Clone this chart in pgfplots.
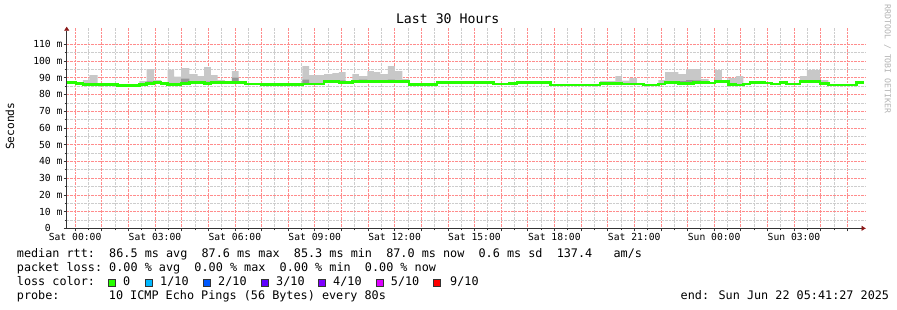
\documentclass[border=0pt]{standalone}
\usepackage{fontspec}
\setmainfont{DejaVu Sans Mono}
\usepackage{pgfplots}
\pgfplotsset{compat=1.18}
\usepackage{pgfplotstable}
\usepgfplotslibrary{fillbetween}
\usetikzlibrary{arrows.meta}
\definecolor{lgreen}{HTML}{26FF00}
\definecolor{lcyan}{HTML}{00B8FF}
\definecolor{lblue}{HTML}{0059FF}
\definecolor{lviolet}{HTML}{5E00FF}
\definecolor{lpurple}{HTML}{7E00FF}
\definecolor{lmagenta}{HTML}{DD00FF}
\definecolor{lred}{HTML}{FF0000}
\definecolor{smoke}{HTML}{C8C8C8}
\definecolor{smokedark}{HTML}{969696}
\definecolor{arrowred}{HTML}{8B1A1A}
\definecolor{gridred}{HTML}{FF8C8C}
\definecolor{gridgray}{HTML}{CDCDCD}
\pgfplotstableread{
x med max dk
-0.32 87.0 87.0 87.0
0.04 86.4 86.4 86.4
0.29 85.8 88.6 85.8
0.54 85.8 91.6 85.8
0.85 85.8 85.8 85.8
1.60 85.2 85.2 85.2
2.41 85.8 88.0 85.8
2.69 86.7 95.2 87.8
2.97 87.0 88.6 87.0
3.23 86.4 87.4 86.4
3.48 85.8 94.8 85.8
3.72 85.8 90.6 85.8
3.98 86.4 95.8 89.4
4.29 87.2 92.2 88.0
4.60 87.2 91.0 87.2
4.85 86.4 96.4 87.6
5.10 87.2 91.6 87.2
5.35 87.2 88.6 87.2
5.63 87.2 87.2 87.2
5.89 87.2 94.0 90.0
6.14 87.2 87.2 87.2
6.41 86.2 86.2 86.2
6.98 85.8 85.8 85.8
8.29 85.8 86.6 85.8
8.54 86.2 97.0 88.8
8.79 86.2 91.6 86.2
9.04 86.2 91.6 86.2
9.35 87.8 92.2 88.6
9.66 87.8 92.8 88.2
9.91 87.2 93.4 88.4
10.16 87.2 87.2 87.2
10.41 87.6 92.2 87.6
10.66 87.6 91.0 88.8
10.98 87.6 94.0 88.6
11.22 87.6 93.4 87.6
11.47 87.6 92.2 87.6
11.75 87.8 97.0 88.8
12.01 87.8 94.0 88.4
12.29 87.8 89.2 87.8
12.54 85.8 85.8 85.8
13.35 86.0 86.6 86.0
13.60 87.2 87.2 87.2
15.72 86.2 86.2 86.2
16.29 86.6 86.6 86.6
16.60 87.2 87.2 87.2
17.85 85.6 85.6 85.6
19.72 86.6 88.0 86.6
20.04 86.6 88.0 86.6
20.29 86.6 91.0 86.6
20.54 86.2 88.2 86.2
20.82 86.2 89.8 86.2
21.10 86.2 86.2 86.2
21.35 85.6 85.6 85.6
21.91 86.2 88.6 86.2
22.16 87.2 93.4 87.2
22.66 86.6 92.2 88.0
22.95 86.6 95.2 88.6
23.22 87.2 95.2 88.4
23.51 87.2 89.2 87.2
23.79 86.9 86.9 86.9
24.04 87.6 94.6 87.6
24.29 87.6 88.2 87.6
24.54 86.0 89.8 86.0
24.82 85.6 91.0 85.6
25.10 86.2 86.2 86.2
25.35 87.2 87.2 87.2
25.91 86.8 86.8 86.8
26.16 86.2 86.2 86.2
26.47 87.2 87.2 87.2
26.73 86.2 86.2 86.2
27.22 87.8 91.0 88.4
27.48 87.8 94.6 88.4
27.97 86.4 88.6 86.4
28.29 85.6 85.6 85.6
29.35 87.2 87.2 87.2
29.62 87.2 87.2 87.2
}\rtt
\begin{document}
\begin{tikzpicture}
\begin{axis}[
  at={(0pt,0pt)}, anchor=south west,
  scale only axis, width=798.9pt, height=201.6pt,
  xmin=-0.315, xmax=29.69, ymin=0, ymax=120.5,
  axis lines=left,
  axis line style={black!80, line width=0.7pt, -{Triangle[length=4pt,width=5pt,color=arrowred]}},
  xtick={0,1,...,29},
  xticklabels={Sat 00:00,,,Sat 03:00,,,Sat 06:00,,,Sat 09:00,,,Sat 12:00,,,Sat 15:00,,,Sat 18:00,,,Sat 21:00,,,Sun 00:00,,,Sun 03:00,,},
  minor x tick num=1,
  ytick={0,10,...,110},
  yticklabels={0\phantom{~m},10 m,20 m,30 m,40 m,50 m,60 m,70 m,80 m,90 m,100 m,110 m},
  minor y tick num=1,
  grid=both,
  major grid style={densely dotted, color=gridred, line width=0.6pt},
  minor grid style={densely dotted, color=gridgray, line width=0.6pt},
  tick align=outside, major tick length=3pt, minor tick length=2pt,
  tick style={black!80, line width=0.6pt},
  ticklabel style={font=\fontsize{9.7}{10}\selectfont, inner sep=1pt},
  xticklabel style={yshift=-1pt},
  clip=false,
]
\addplot[name path=mx, draw=none, const plot] table[x=x, y=max]{\rtt};
\addplot[name path=md, draw=none, const plot] table[x=x, y=med]{\rtt};
\addplot[name path=dk, draw=none, const plot] table[x=x, y=dk]{\rtt};
\addplot[smoke, draw=none] fill between[of=mx and md];
\addplot[smokedark, draw=none] fill between[of=dk and md];
\addplot[const plot, lgreen, line width=2.6pt] table[x=x, y=med]{\rtt};
\end{axis}
% title and labels
\node[anchor=base, inner sep=0] at (381pt,205pt) {\fontsize{13.2}{14}\selectfont Last 30 Hours};
\node[rotate=90, inner sep=0] at (-56.7pt,102pt) {\fontsize{11.2}{12}\selectfont Seconds};
\node[rotate=-90, inner sep=0, text=black!30] at (820.8pt,169.3pt) {\fontsize{8.2}{9}\selectfont RRDTOOL / TOBI OETIKER};
% legend lines
\begin{scope}[every node/.style={anchor=base west, inner sep=0, font=\fontsize{11.8}{12}\selectfont}]
\node at (-50pt,-29.4pt) {median rtt:~~86.5 ms avg~~87.6 ms max~~85.3 ms min~~87.0 ms now~~0.6 ms sd~~137.4~~~am/s};
\node at (-50pt,-43.4pt) {packet loss:~0.00 \% avg~~0.00 \% max~~0.00 \% min~~0.00 \% now};
\node at (-50pt,-57.7pt) {loss color:};
\node at (56.3pt,-57.7pt) {0};
\node at (93.3pt,-57.7pt) {1/10};
\node at (151.3pt,-57.7pt) {2/10};
\node at (209.3pt,-57.7pt) {3/10};
\node at (266.3pt,-57.7pt) {4/10};
\node at (324pt,-57.7pt) {5/10};
\node at (383.3pt,-57.7pt) {9/10};
\node at (-50pt,-71.7pt) {probe:};
\node at (42pt,-71.7pt) {10 ICMP Echo Pings (56 Bytes) every 80s};
\node[anchor=base east] at (822.6pt,-71.7pt) {end: Sun Jun 22 05:41:27 2025};
\end{scope}
\foreach \xx/\cc in {42/lgreen,79/lcyan,136.3/lblue,194.3/lviolet,251.3/lpurple,309.3/lmagenta,366.6/lred}{
  \filldraw[fill=\cc, draw=black!80, line width=0.5pt] (\xx pt,-57.8pt) rectangle ++(7pt,7pt);
}
\pgfresetboundingbox
\path[use as bounding box] (-66.7pt,-81.7pt) rectangle (830.3pt,228.3pt);
\end{tikzpicture}
\end{document}
